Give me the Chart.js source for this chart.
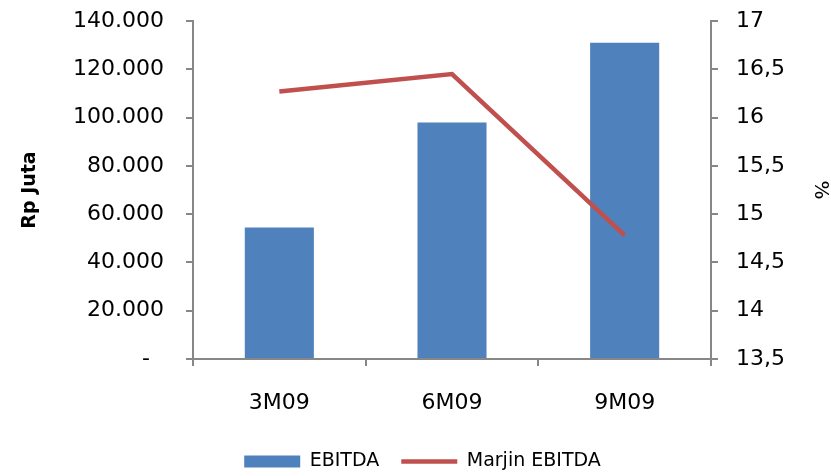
<!DOCTYPE html>
<html>
<head>
<meta charset="utf-8">
<script src="https://cdn.jsdelivr.net/npm/chart.js@4"></script>
<style>
  html, body { margin: 0; padding: 0; background: #fff; }
  #wrap { width: 831px; height: 476px; }
</style>
</head>
<body>
<div id="wrap"><canvas id="chart" width="831" height="476"></canvas></div>
<script>
// data
const periods = ['3M09', '6M09', '9M09'];
const ebitda = [54500, 98000, 131000];      // Rp Juta
const marjin = [16.27, 16.45, 14.78];       // %
const leftTicks = { min: 0, max: 140000, step: 20000 };
const rightTicks = { min: 13.5, max: 17, step: 0.5 };

const FONT = "'Century Gothic', 'DejaVu Sans', sans-serif";
const AXIS = '#878787';

function ribuan(v) {
  if (v === 0) return '-  ';
  return String(v).replace(/\B(?=(\d{3})+(?!\d))/g, '.');
}

// fixed widths so the plot area sits where it does in the original
function fixWidth(w) {
  return function(s) {
    s.width = w;
    s.paddingTop = 0;
    s.paddingBottom = 0;
  };
}

new Chart(document.getElementById('chart'), {
  data: {
    labels: periods,
    datasets: [
      {
        type: 'bar',
        label: 'EBITDA',
        data: ebitda,
        yAxisID: 'y',
        backgroundColor: '#4F81BD',
        borderWidth: 0,
        pointStyle: 'rect',
        categoryPercentage: 0.4,
        barPercentage: 1,
        order: 2
      },
      {
        type: 'line',
        label: 'Marjin EBITDA',
        data: marjin,
        yAxisID: 'y1',
        borderColor: '#C0504D',
        backgroundColor: '#C0504D',
        borderWidth: 4.5,
        pointRadius: 0,
        pointStyle: 'line',
        tension: 0,
        order: 1
      }
    ]
  },
  options: {
    responsive: false,
    animation: false,
    layout: { padding: { top: 21, left: 7, right: -7, bottom: -5 } },
    scales: {
      x: {
        offset: true,
        grid: { offset: true, drawOnChartArea: false, drawTicks: true, tickLength: 7, color: AXIS, lineWidth: 2 },
        border: { color: AXIS, width: 2 },
        ticks: { color: '#000', padding: 24, font: { family: FONT, size: 22 } },
        afterFit: function(s) { s.height = 71; }
      },
      y: {
        position: 'left',
        min: leftTicks.min,
        max: leftTicks.max,
        grid: { drawOnChartArea: false, tickLength: 7, color: AXIS, lineWidth: 2 },
        border: { color: AXIS, width: 2 },
        ticks: {
          stepSize: leftTicks.step,
          color: '#000',
          padding: 22,
          font: { family: FONT, size: 22 },
          callback: function(v) { return ribuan(v); }
        },
        title: {
          display: true,
          text: 'Rp Juta',
          color: '#000',
          padding: { top: 12, bottom: 0 },
          font: { family: FONT, size: 19, weight: 'bold' }
        },
        afterFit: fixWidth(186)
      },
      y1: {
        position: 'right',
        min: rightTicks.min,
        max: rightTicks.max,
        grid: { drawOnChartArea: false, tickLength: 7, color: AXIS, lineWidth: 2 },
        border: { color: AXIS, width: 2 },
        ticks: {
          stepSize: rightTicks.step,
          color: '#000',
          padding: 18,
          font: { family: FONT, size: 22 },
          callback: function(v) { return String(v).replace('.', ','); }
        },
        title: {
          display: true,
          text: '%',
          color: '#000',
          padding: { top: 6, bottom: 0 },
          font: { family: FONT, size: 20 }
        },
        afterFit: fixWidth(127)
      }
    },
    plugins: {
      tooltip: { enabled: false },
      legend: {
        position: 'bottom',
        labels: {
          usePointStyle: true,
          pointStyleWidth: 56,
          boxHeight: 12,
          padding: 22,
          color: '#000',
          font: { family: FONT, size: 19 },
          sort: function(a, b) { return a.datasetIndex - b.datasetIndex; }
        }
      }
    }
  }
});
</script>
</body>
</html>
